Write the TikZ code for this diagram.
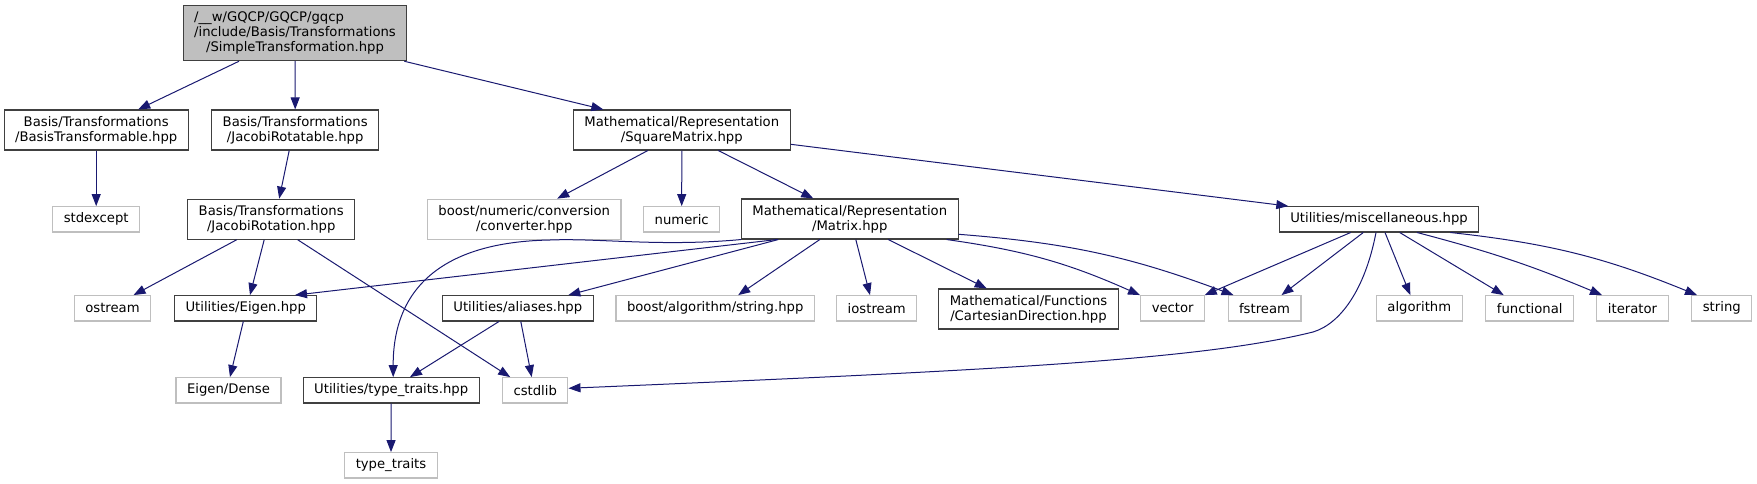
\documentclass[tikz,border=0pt]{standalone}
\usepackage{fontspec}
\setmainfont{DejaVu Sans}
\usetikzlibrary{arrows.meta}
\definecolor{edgeblue}{HTML}{191970}
\definecolor{boxgrey}{HTML}{BFBFBF}
\definecolor{boxdark}{HTML}{404040}
\tikzset{
	file/.style={draw=boxdark, line width=1.1pt, fill=white, inner xsep=11pt, inner ysep=2pt,
		minimum height=25.3pt, align=center, font=\fontsize{13.2}{15}\selectfont},
	sysfile/.style={file, draw=boxgrey},
	twolines/.style={minimum height=40pt},
	dep/.style={edgeblue, line width=1pt, -{Triangle[length=12pt,width=9pt]}},
}
\begin{document}
\begin{tikzpicture}[x=1pt,y=-1pt]
	\useasboundingbox (0,0) rectangle (1757,484);

	\node[file, fill=boxgrey, minimum height=55pt] (root) at (295,33.2)
		{\setbox0\hbox{/include/Basis/Transformations}\hbox to\wd0{/\_\_w/GQCP/GQCP/gqcp\hfil}\\/include/Basis/Transformations\\/SimpleTransformation.hpp};

	\node[file, twolines] (btf) at (96.2,130) {Basis/Transformations\\/BasisTransformable.hpp};
	\node[file, twolines] (jrt) at (295.2,130) {Basis/Transformations\\/JacobiRotatable.hpp};
	\node[file, twolines] (sqm) at (681.8,130) {Mathematical/Representation\\/SquareMatrix.hpp};

	\node[sysfile] (stdexc) at (96.2,219.3) {stdexcept};
	\node[file, twolines] (jrot) at (271.2,219.2) {Basis/Transformations\\/JacobiRotation.hpp};
	\node[sysfile, twolines] (conv) at (524.2,219.2) {boost/numeric/conversion\\/converter.hpp};
	\node[sysfile] (numeric) at (681.7,219.3) {numeric};
	\node[file, twolines] (mat) at (849.8,219) {Mathematical/Representation\\/Matrix.hpp};
	\node[file] (misc) at (1379,219.3) {Utilities/miscellaneous.hpp};

	\node[sysfile] (ostream) at (112.5,308.3) {ostream};
	\node[file] (eigen) at (245.7,308.3) {Utilities/Eigen.hpp};
	\node[file] (aliases) at (517.8,308.3) {Utilities/aliases.hpp};
	\node[sysfile] (bstr) at (715.2,308.3) {boost/algorithm/string.hpp};
	\node[sysfile] (iostream) at (876.7,308.3) {iostream};
	\node[file, twolines] (cartdir) at (1028.5,309) {Mathematical/Functions\\/CartesianDirection.hpp};
	\node[sysfile] (vector) at (1172.7,308.3) {vector};
	\node[sysfile] (fstream) at (1264.5,308.3) {fstream};
	\node[sysfile] (algo) at (1419.3,308.3) {algorithm};
	\node[sysfile] (functional) at (1529.7,308.3) {functional};
	\node[sysfile] (iterator) at (1632.5,308.3) {iterator};
	\node[sysfile] (string) at (1721.8,308.3) {string};

	\node[sysfile] (dense) at (228.5,390.3) {Eigen/Dense};
	\node[file] (tth) at (391.2,390.3) {Utilities/type\_traits.hpp};
	\node[sysfile] (cstdlib) at (535.2,390.3) {cstdlib};

	\node[sysfile] (tt) at (391,465.3) {type\_traits};

	\draw[dep] ([xshift=-56pt]root.south) -- ([xshift=42pt]btf.north);
	\draw[dep] (root.south) -- (jrt.north);
	\draw[dep] ([xshift=109.3pt]root.south) -- ([xshift=-78.5pt]sqm.north);

	\draw[dep] (btf.south) -- (stdexc.north);
	\draw[dep] ([xshift=-6pt]jrt.south) -- ([xshift=8pt]jrot.north);

	\draw[dep] ([xshift=-34.5pt]jrot.south) -- ([xshift=21pt]ostream.north);
	\draw[dep] ([xshift=-7pt]jrot.south) -- ([xshift=4.3pt]eigen.north);
	\draw[dep] ([xshift=26.5pt]jrot.south) -- ([xshift=-25pt]cstdlib.north);

	\draw[dep] ([xshift=-34pt]sqm.south) -- ([xshift=33pt]conv.north);
	\draw[dep] (sqm.south) -- (numeric.north);
	\draw[dep] ([xshift=36.5pt]sqm.south) -- ([xshift=-36.5pt]mat.north);
	\draw[dep] ([yshift=-14.3pt]sqm.east) -- ([xshift=-90.7pt]misc.north);

	\draw[dep] ([xshift=-73pt]mat.south) -- ([xshift=49.3pt]eigen.north);
	\draw[dep] (mat.south west) .. controls (660,247) and (600,238) .. (550,240)
		.. controls (440,242) and (393,290) .. ([xshift=2pt]tth.north);
	\draw[dep] ([xshift=-71.5pt]mat.south) -- ([xshift=50.5pt]aliases.north);
	\draw[dep] ([xshift=-30pt]mat.south) -- ([xshift=23pt]bstr.north);
	\draw[dep] ([xshift=6pt]mat.south) -- ([xshift=-6.7pt]iostream.north);
	\draw[dep] ([xshift=38.5pt]mat.south) -- ([xshift=-41.8pt]cartdir.north);
	\draw[dep] ([xshift=96.9pt]mat.south) to[bend left=8] ([xshift=-32.7pt]vector.north);
	\draw[dep] ([yshift=-15.3pt]mat.east) to[bend left=8] ([xshift=-31pt]fstream.north);

	\draw[dep] ([xshift=-28.3pt]misc.south) -- ([xshift=32pt]vector.north);
	\draw[dep] ([xshift=-15.7pt]misc.south) -- ([xshift=17pt]fstream.north);
	\draw[dep] ([xshift=-3pt]misc.south) .. controls (1365,290) and (1340,324) .. (1313,332)
		.. controls (1200,360) and (1000,370) .. ([yshift=2pt]cstdlib.east);
	\draw[dep] ([xshift=6pt]misc.south) -- ([xshift=-9pt]algo.north);
	\draw[dep] ([xshift=20.7pt]misc.south) -- ([xshift=-26pt]functional.north);
	\draw[dep] ([xshift=38pt]misc.south) to[bend left=4] ([xshift=-30.5pt]iterator.north);
	\draw[dep] ([xshift=71.3pt]misc.south) to[bend left=8] ([xshift=-24.8pt]string.north);

	\draw[dep] ([xshift=-18.8pt]aliases.south) -- ([xshift=18.8pt]tth.north);
	\draw[dep] ([xshift=3pt]aliases.south) -- ([xshift=-3.5pt]cstdlib.north);
	\draw[dep] ([xshift=-2.4pt]eigen.south) -- ([xshift=1.5pt]dense.north);
	\draw[dep] (tth.south) -- (tt.north);
\end{tikzpicture}
\end{document}
